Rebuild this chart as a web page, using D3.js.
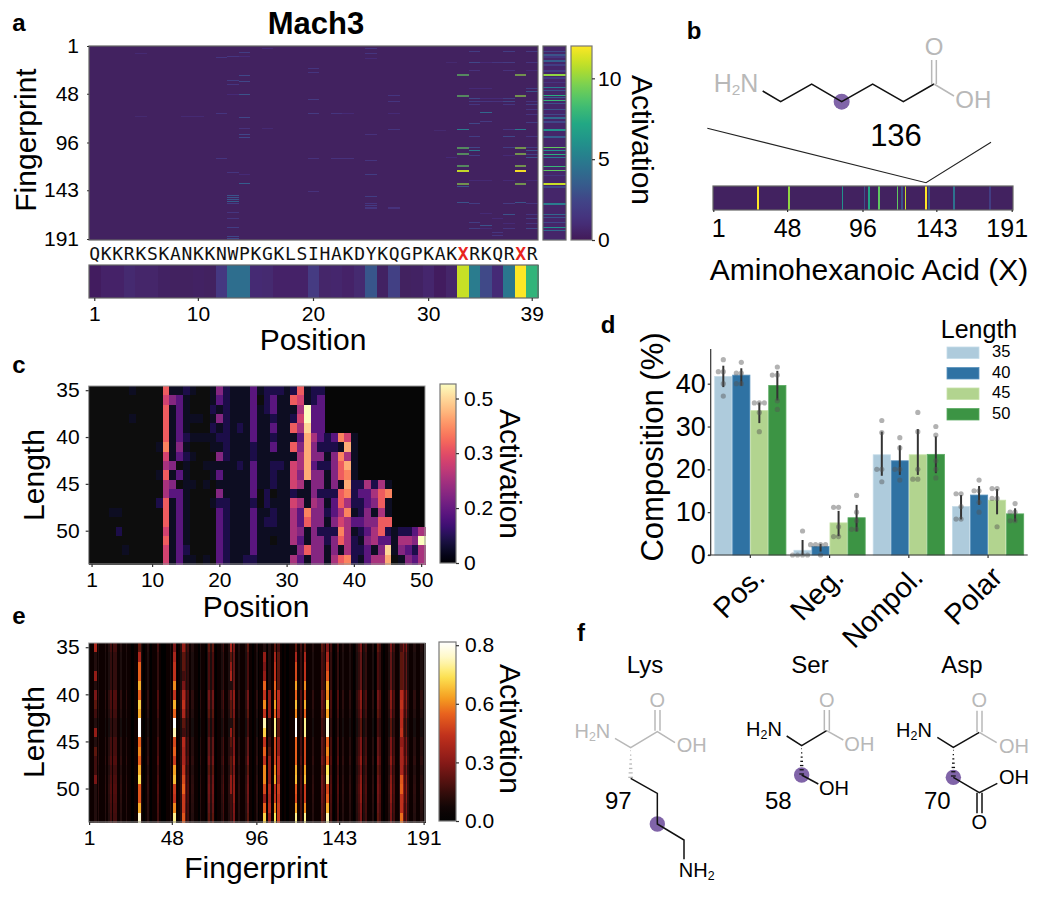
<!DOCTYPE html>
<html><head><meta charset="utf-8">
<script src="https://cdn.jsdelivr.net/npm/d3@7"></script>
<style>
html,body{margin:0;padding:0;background:#fff}
svg{display:block}
text{font-family:"Liberation Sans",Arial,sans-serif;fill:#000}
</style></head><body><div id="chart"></div>
<script>
// ---------- panel a data ----------
const sequence = "QKKRKSKANKKNWPKGKLSIHAKDYKQGPKAKXRKQRXR".split("");
const positionTicks = [1,10,20,30,39];
const fingerprintTicks = [1,48,96,143,191];
const positionMean = [.2,.5,.5,.8,.6,.6,.4,.3,.3,.4,.3,1.7,4.3,4.3,.9,.8,.5,.5,.5,1.8,.6,.7,.5,.8,3.2,.4,2.1,.3,.4,.7,.2,.6,11,5,2.6,1,4.7,12,7.8];
const mainBase = 0.3;
const mainHits = [
 [33,[[29,9],[49,9],[83,5],[100,9],[106,9],[118,9],[123,11],[136,10],[139,3],[155,3]]],
 [38,[[29,10],[49,10],[83,5],[100,10],[106,10],[118,10],[123,12],[136,10],[155,3]]],
 [34,[[6,2],[17,2.5],[25,1.2],[42,1],[52,2.5],[55,2],[58,1.5],[77,2.5],[90,2],[100,2.5],[103,5],[108,2],[133,1],[156,2],[174,2],[180,2]]],
 [35,[[17,1],[42,1],[52,1],[55,1.5],[66,4],[75,1.8],[133,.9],[165,1],[177,3],[180,1]]],
 [36,[[17,1.5],[52,1],[55,1.2],[170,1],[184,1.5],[187,1.5]]],
 [37,[[6,2],[17,1.8],[25,1.2],[52,2],[55,2.5],[58,1.5],[83,1.5],[90,2.5],[100,2],[108,1],[133,1],[156,1.8],[166,3],[175,1],[180,1.5]]],
 [39,[[6,1.8],[17,1.5],[25,1],[42,2],[45,3],[55,1.5],[58,2],[63,1.5],[68,1.5],[76,2],[90,1.5],[100,2],[103,3],[107,2],[110,3],[133,1],[156,1.5],[166,1.5],[170,2],[175,1.5],[180,2.5]]],
 [13,[[11,1.5],[34,2],[38,1.5],[48,1],[125,1.5],[148,3],[150,3],[152,3],[154,3.5],[156,2],[164,1.5],[170,1.5],[179,2],[188,2.5],[190,2.5]]],
 [14,[[7,2],[11,1],[30,2.5],[35,2.5],[48,3],[71,2.5],[82,1.2],[88,2.5],[91,2.5],[127,1],[136,3.5]]],
 [25,[[3,1.5],[8,1.5],[13,1],[88,1.2],[113,1.5],[127,2],[149,2],[156,1.5],[158,1.8],[160,1.5]]],
 [20,[[23,1.5],[27,1.5],[53,1.8],[67,1.8],[111,1.2],[144,1.2]]],
 [27,[[49,1.5],[55,1.5],[67,1],[83,1.5],[160,1.2]]],
 [12,[[12,1.5],[67,1.5],[111,1.5]]],
 [22,[[67,1.5],[111,1.2]]],[23,[[67,1],[111,1.2]]],
 [9,[[70,.9]]],[10,[[70,.9]]],[16,[[3,1],[82,.9]]],[5,[[8,.9],[70,.8]]],[31,[[84,.8]]],[32,[[17,.8],[110,1]]]
];
const fingerprintBase = 0.6;
const fingerprintMean = [[6,2.5],[9,3],[11,1.5],[15,3.5],[19,2],[25,2],[29,10],[32,2],[36,1.5],[41,5],[44,3],[49,7.5],[51,3.5],[54,8],[57,3],[63,3],[68,2.5],[71,4],[75,2.5],[83,6],[90,3.5],[100,9],[103,6],[107,7.5],[110,5],[119,8],[123,9],[128,1.5],[136,11],[139,2.5],[156,5],[166,4],[169,3],[174,2.5],[179,6],[182,4],[191,2]];
const activationTicks = [0,5,10];
// ---------- panel b data ----------
const aminoBase = 0.3;
const aminoValues = [[29,12],[49,10],[83,6],[97,3],[100,7],[106,9],[118,9],[121,3],[123,11],[136,12],[138,3],[154,4.5],[177,2]];
// ---------- panel c data (levels 0..b; one row per length) ----------
const lengths = d3.range(35,54);
const lengthTicks = [35,40,45,50];
const cColumns = d3.range(1,51);
const cTicks = [1,10,20,30,40,50];
const rowEnds = [35,35,35,35,35,40,40,40,40,40,45,45,45,45,45,50,50,50,50];
const cLevelValues = [.012,.035,.075,.16,.22,.27,.33,.38,.43,.48,.53,.58];
const cLevels = [
"0000001000 0711210014 2111312221 2712200000 0000000000",
"0000000000 0643100013 2111302311 7612300000 0000000000",
"0000000000 0713100021 2111312311 15b3300000 0000000000",
"0000001000 0713111014 2111311211 26b3300000 0000000000",
"0000000000 0713100021 2121311311 75a3300000 0000000000",
"0000000000 0713211112 2111311211 1395323861 0000000000",
"0000000000 1814100011 2111211311 7494222191 0000000000",
"0000000000 0613210004 2111211111 1594414851 0000000000",
"0000000000 0540100111 1121311221 6593224791 0000000000",
"0000000000 1713100013 1111311211 6494414781 0000000000",
"0000000000 0540110101 1111311211 6514414192 2525100000",
"0000000000 0533100004 1111302011 2114222782 3357800000",
"0000000000 2713100012 2111202111 6515413752 2347100000",
"0001100000 0713100003 2111311211 5384423581 2415100000",
"0000000000 0713100003 2111312211 5374414653 3447710000",
"0000200000 0613100003 2111311111 5414222851 2357212235",
"0000000000 0713100003 2111311011 5314424752 145331554b",
"0000010000 0613200003 2111311111 1474414152 2314a14325",
"0000000000 0613110103 2112211111 5314415782 1355901435"];
const cBarTicks = [[0,"0"],[0.178,"0.2"],[0.356,"0.3"],[0.533,"0.5"]];
// ---------- panel d data ----------
const groups = ["Pos.","Neg.","Nonpol.","Polar"];
const lengthKeys = ["35","40","45","50"];
const barColors = ["#aecbdc","#2f72a3","#b2d48f","#3c9444"];
const barEdges = ["#c4dbe8","#5a93bd","#c6e2a8","#5aaa62"];
const barValues = [[41.7,42,33.7,39.6],[1.1,2,7.5,8.7],[23.4,22,23.4,23.5],[11.3,14,12.8,9.6]];
const ciLow = [[39.2,39.5,30.8,36.1],[0,.8,4.4,5.5],[18.5,18.7,18.7,19.1],[8.3,11.7,9.5,7.8]];
const ciHigh = [[44.2,43.6,35.6,43],[3.5,2.6,10.3,11.7],[28.8,25.6,29.4,27.7],[14,16.1,15.4,10.9]];
// each point: [composition, swarm slot]
const swarm = [
 [[[45.6,0],[42.8,-1],[42.8,0],[40,0],[37.1,0]],[[45,0],[42.5,-1],[42.5,0],[40,-1],[40,0]],[[35.5,-1],[35.5,0],[35.5,1],[33.3,0],[28.8,0]],[[43.9,0],[42,-1],[42,0],[36,0],[34,0]]],
 [[[5.6,0],[0,-1],[0,0],[0,1],[0,-2]],[[2.4,-1],[2.4,0],[2.4,1],[2.4,-2],[0,0]],[[11.1,-1],[11.1,0],[6.6,0],[4.3,-1],[4.3,0]],[[13.9,0],[10,0],[8,0],[6,-1],[6,0]]],
 [[[31.4,0],[28.6,0],[20,-1],[20,0],[17.1,0]],[[27.4,0],[25,0],[20,-1],[20,0],[17.5,0]],[[33.3,0],[28.8,0],[20,0],[17.7,-1],[17.7,0]],[[30,0],[28,0],[22,0],[20,0],[18,0]]],
 [[[14.3,-1],[14.3,0],[11.3,0],[8.4,-1],[8.4,0]],[[17.5,0],[15,-1],[15,0],[12.3,0],[10,0]],[[15.5,-1],[15.5,0],[13.2,-1],[13.2,0],[6.6,0]],[[12,0],[10,-1],[10,0],[8,-1],[8,0]]]
];
const compositionTicks = [0,10,20,30,40];
// ---------- panel e data ----------
const fingerprints = d3.range(1,192);
// mean column level in steps of 0.05 activation
const eColumnLevels = "0114121112 1231331121 1211001102 1012101113 1000112111 0125423122 1102110242 4101123112 4251121112 4110120110 1041101511 0100111011 3101111211 1143101310 1301211121 0123512311 1201431011 2523112053 52112211221";
const eLengthGain = [1,.85,.85,.85,.85,1.2,1.1,1,.8,.8,1.05,1.05,1.2,1,1.15,1.2,1.15,1.05,1];
const eHotColumns = [
 [29,[.2,.35,.5,.5,.6,.5,.65,.6,.84,.84,.5,.55,.5,.6,.68,.48,.48,.6,.78]],
 [49,[.25,.35,.4,.4,.55,.4,.6,.5,.84,.75,.45,.5,.42,.58,.62,.42,.4,.55,.72]],
 [100,[.1,.3,.25,.3,.5,.4,.55,.4,.75,.65,.4,.5,.4,.55,.55,.45,.3,.5,.65]],
 [106,[.2,.35,.4,.4,.5,.45,.58,.5,.72,.72,.45,.45,.45,.55,.6,.4,.42,.55,.68]],
 [118,[.2,.35,.45,.45,.58,.5,.62,.55,.84,.84,.5,.5,.5,.6,.62,.48,.45,.58,.72]],
 [123,[.2,.35,.4,.4,.55,.45,.6,.5,.72,.72,.45,.45,.45,.58,.62,.42,.42,.55,.72]],
 [136,[.25,.35,.42,.48,.58,.55,.68,.58,.8,.8,.5,.55,.5,.68,.72,.45,.5,.6,.75]],
 [54,[.3,.2,.2,.15,.25,.35,.4,.35,.2,.15,.38,.35,.35,.4,.45,.5,.42,.42,.48]],
 [103,[.1,.1,.1,.1,.1,.3,.3,.3,.1,.1,.15,.2,.3,.3,.3,.38,.35,.38,.3]],
 [108,[.15,.2,.2,.2,.2,.38,.38,.35,.2,.2,.3,.3,.38,.38,.35,.42,.4,.42,.42]],
 [178,[.15,.2,.2,.2,.2,.38,.4,.38,.38,.4,.3,.35,.35,.35,.48,.5,.4,.4,.52]],
 [4,[.35,.1,.1,.3,.1,.25,.2,.15,.1,.3,.1,.2,.15,.15,.25,.1,.1,.1,.1]],
 [81,[.35,.2,.3,.35,.1,.25,.2,.2,.1,.3,.2,.15,.2,.2,.3,.3,.15,.15,.15]]
];
const eBarTicks = [[0,"0.0"],[.275,"0.3"],[.55,"0.6"],[.825,"0.8"]];
// ---------- structures ----------
const purple = "#8064a8", grey = "#b8b8b8", ink = "#000";

// ---------- colour scales ----------
const viridis = d3.scaleLinear()
  .domain([0,.1,.2,.3,.4,.5,.6,.7,.8,.9,1].map(t=>t*12))
  .range(["#421a58","#46307c","#414487","#355f8d","#2a788e","#21918c","#22a884","#44bf70","#7ad151","#bddf26","#fde725"]);
const magma = d3.scaleSequential(d3.interpolateMagma).domain([0,.58]);
const hot = d3.scaleLinear()
  .domain([0,.06,.12,.28,.4,.5,.58,.68,.76,.84])
  .range(["#040303","#0f0505","#2e0c0a","#8a1a18","#c0301c","#e8601e","#f5a020","#fde554","#fff8c0","#ffffff"]);

const svg = d3.select("#chart").append("svg").attr("width",1050).attr("height",900);
const defs = svg.append("defs");
function blur(id,sx,sy){ defs.append("filter").attr("id",id).attr("x","-5%").attr("y","-5%").attr("width","110%").attr("height","110%")
  .append("feGaussianBlur").attr("stdDeviation",sx+" "+sy); }
blur("blurMain",.35,.5); blur("blurCell",.5,.6); blur("blurHot",.3,.6); blur("blurStrip",.4,.1);

function label(x,y,s,size,opts={}){
  const t=svg.append("text").attr("x",x).attr("y",y).attr("font-size",size).attr("text-anchor",opts.anchor||"middle")
    .attr("dominant-baseline","middle").text(s);
  if(opts.rotate!==undefined) t.attr("transform",`rotate(${opts.rotate} ${x} ${y})`);
  if(opts.bold) t.attr("font-weight","bold");
  if(opts.fill) t.style("fill",opts.fill);
  return t;
}
function styleAxis(g,size,tick="#333"){
  g.select(".domain").remove();
  g.selectAll(".tick line").attr("stroke",tick).attr("stroke-width",1.2);
  g.selectAll(".tick text").attr("font-size",size).style("font-family",'"Liberation Sans",Arial,sans-serif').attr("fill","#000");
  return g;
}
function frame(x0,y0,w,h,c="#666",lw=1.2){
  svg.append("rect").attr("x",x0).attr("y",y0).attr("width",w).attr("height",h).attr("fill","none").attr("stroke",c).attr("stroke-width",lw);
}
function colorbar(id,x0,x1,y0,y1,scale,dom,ticks,size,labelX){
  const st=d3.range(0,1.0001,.04);
  const gr=defs.append("linearGradient").attr("id",id).attr("x1",0).attr("x2",0).attr("y1",1).attr("y2",0);
  gr.selectAll("stop").data(st).join("stop").attr("offset",d=>d).attr("stop-color",d=>scale(dom[0]+d*(dom[1]-dom[0])));
  svg.append("rect").attr("x",x0).attr("y",y0).attr("width",x1-x0).attr("height",y1-y0).attr("fill",`url(#${id})`);
  frame(x0,y0,x1-x0,y1-y0,"#777",1.2);
  const ys=d3.scaleLinear().domain(dom).range([y1,y0]);
  const g=svg.append("g").attr("transform",`translate(${x1},0)`)
    .call(d3.axisRight(ys).tickValues(ticks.map(d=>d[0])).tickSize(3).tickPadding(labelX).tickFormat((d,i)=>ticks[i][1]));
  styleAxis(g,size);
}

// ---------- panel a ----------
label(19,25,"a",24,{bold:true});
label(316,26,"Mach3",31,{bold:true});
const xA = d3.scaleBand().domain(d3.range(1,40)).range([89,538]);
const yA = d3.scaleBand().domain(d3.range(1,192)).range([46,240]);
const mainG = svg.append("g").attr("filter","url(#blurMain)");
mainG.append("rect").attr("x",xA.range()[0]).attr("y",yA.range()[0]).attr("width",xA.range()[1]-xA.range()[0]).attr("height",yA.range()[1]-yA.range()[0]).attr("fill",viridis(mainBase));
mainG.selectAll("g").data(mainHits).join("g").each(function(col){
  d3.select(this).selectAll("rect").data(col[1]).join("rect")
    .attr("x",xA(col[0])).attr("width",xA.bandwidth()).attr("y",d=>yA(d[0]))
    .attr("height",d=>yA.bandwidth()*(d[1]>=8?2:1)).attr("fill",d=>viridis(d[1]))
    .attr("fill-opacity",d=>d[1]>=10.5?.95:d[1]>=8?.62:1)
    .attr("shape-rendering","crispEdges");
});
frame(89,46,449,194);
styleAxis(svg.append("g").attr("transform","translate(89,0)").call(d3.axisLeft(yA).tickValues(fingerprintTicks).tickSize(2).tickPadding(8)),21);
label(28,140,"Fingerprint",30,{rotate:-90});
// side strip
const xSide = [543,566];
const sideOrder = fingerprints.slice().sort((a,b)=>{
  const va=fingerprintMean.some(e=>e[0]===a)?1:0, vb=fingerprintMean.some(e=>e[0]===b)?1:0; return va-vb||a-b;});
const sideG = svg.append("g").attr("filter","url(#blurMain)");
sideG.selectAll("rect").data(sideOrder).join("rect")
  .attr("x",xSide[0]).attr("width",xSide[1]-xSide[0]).attr("y",d=>yA(d)).attr("height",yA.bandwidth()+.4)
  .attr("shape-rendering","crispEdges")
  .attr("fill",d=>{const h=fingerprintMean.find(e=>e[0]===d);return viridis(h?h[1]:fingerprintBase);});
frame(543,46,23,194);
colorbar("cbA",571,592,46,240,viridis,[0,12],activationTicks.map(d=>[d,String(d)]),21,3);
label(640,140,"Activation",30,{rotate:90});
// sequence letters
svg.append("g").selectAll("text").data(sequence).join("text")
  .attr("x",(d,i)=>xA(i+1)+xA.bandwidth()/2).attr("y",255).attr("text-anchor","middle").attr("dominant-baseline","middle")
  .attr("font-size",18).style("font-family",'"DejaVu Sans Mono",monospace')
  .style("fill",d=>d==="X"?"#e8251f":"#111").attr("font-weight",d=>d==="X"?"bold":"normal").text(d=>d);
// position strip
const stripG = svg.append("g").attr("filter","url(#blurStrip)");
stripG.selectAll("rect").data(positionMean).join("rect")
  .attr("x",(d,i)=>xA(i+1)).attr("width",xA.bandwidth()+.8).attr("y",265).attr("height",33).attr("fill",d=>viridis(d))
  .attr("shape-rendering","crispEdges");
frame(89,265,449,33);
styleAxis(svg.append("g").attr("transform","translate(0,298)").call(d3.axisBottom(xA).tickValues(positionTicks).tickSize(3).tickPadding(5)),21);
label(313,342,"Position",30);

// ---------- panel b ----------
label(694,33,"b",24,{bold:true});
const xB = d3.scaleBand().domain(d3.range(1,192)).range([713,1013]);
const bOrder = fingerprints.slice().sort((a,b)=>{
  const va=aminoValues.some(e=>e[0]===a)?1:0, vb=aminoValues.some(e=>e[0]===b)?1:0; return va-vb||a-b;});
const bG = svg.append("g").attr("filter","url(#blurStrip)");
bG.selectAll("rect").data(bOrder).join("rect")
  .attr("x",d=>xB(d)).attr("width",xB.bandwidth()+.1).attr("y",186).attr("height",24)
  .attr("shape-rendering","crispEdges")
  .attr("fill",d=>{const h=aminoValues.find(e=>e[0]===d);return viridis(h?h[1]:aminoBase);});
frame(713,186,300,24);
const axB = styleAxis(svg.append("g").attr("transform","translate(0,210)").call(d3.axisBottom(xB).tickValues(fingerprintTicks).tickSize(2).tickPadding(7)),25);
axB.selectAll(".tick text").attr("dx",(d)=>d===1?5:d===191?-5:0);
label(869,272,"Aminohexanoic Acid (X)",30);

const Z = (x0,y0)=>(p)=>[x0+p[0]/3,y0+p[1]/3];
const lineGen = d3.line();
function bonds(x0,y0,list,color,w=1.5){
  const z=Z(x0,y0);
  svg.append("g").selectAll("path").data(list).join("path")
    .attr("d",d=>lineGen(d.map(z))).attr("fill","none").attr("stroke",color).attr("stroke-width",w).attr("stroke-linejoin","miter");
}
function atom(x0,y0,p,parts,color,size){
  const z=Z(x0,y0)(p);
  const t=svg.append("text").attr("x",z[0]).attr("y",z[1]).attr("text-anchor","middle").attr("dominant-baseline","middle").attr("font-size",size).style("fill",color);
  let pending=0;
  parts.forEach(pt=>{
    const s=t.append("tspan").text(pt.t);
    if(pt.sub){ s.attr("font-size",size*.62).attr("dy",size*.25); pending=-size*.25; }
    else if(pending){ s.attr("dy",pending); pending=0; }
  });
}
function dot(x0,y0,p,r){ const z=Z(x0,y0)(p); svg.append("circle").attr("cx",z[0]).attr("cy",z[1]).attr("r",r).attr("fill",purple); }
function hash(x0,y0,p,q,color){
  const z=Z(x0,y0); const a=z(p),b=z(q); const n=7;
  svg.append("g").selectAll("line").data(d3.range(n)).join("line")
    .attr("x1",i=>a[0]-(.3+i*.35)).attr("x2",i=>a[0]+(.3+i*.35))
    .attr("y1",i=>a[1]+(b[1]-a[1])*i/(n-1)).attr("y2",i=>a[1]+(b[1]-a[1])*i/(n-1))
    .attr("stroke",color).attr("stroke-width",1.3);
}
// aminohexanoic acid
dot(680,10,[485,275],8);
bonds(680,10,[[[248,243],[302,275],[395,222],[485,275],[578,222],[670,275],[762,222]]],"#111");
bonds(680,10,[[[762,222],[822,258]],[[755,222],[755,150]],[[769,222],[769,150]]],grey);
atom(680,10,[168,225],[{t:"H"},{t:"2",sub:1},{t:"N"}],grey,25);
atom(680,10,[762,118],[{t:"O"}],grey,24);
atom(680,10,[880,275],[{t:"OH"}],grey,24);
label(896,138,"136",31);
bonds(680,10,[[[82,355],[738,518],[933,397]]],"#222",1.1);

// ---------- panel c ----------
label(19,367,"c",24,{bold:true});
const xC = d3.scaleBand().domain(cColumns).range([88.7,425]);
const yC = d3.scaleBand().domain(lengths).range([386,564]);
const cCells = cLevels.flatMap((row,ri)=>{
  const digits=row.replace(/ /g,"").split("").map(c=>parseInt(c,12));
  return digits.map((lv,ci)=>({len:lengths[ri],col:ci+1,lv,on:ci+1<=rowEnds[ri]}));
});
svg.append("rect").attr("x",88.7).attr("y",386).attr("width",336.3).attr("height",178).attr("fill","#060606");
svg.append("g").attr("filter","url(#blurCell)").selectAll("rect").data(cCells.filter(d=>d.on)).join("rect")
  .attr("x",d=>xC(d.col)).attr("y",d=>yC(d.len)).attr("width",xC.bandwidth()+.5).attr("height",yC.bandwidth()+.5)
  .attr("shape-rendering","crispEdges")
  .attr("fill",d=>d.lv===0?"#0d0c10":magma(cLevelValues[d.lv]));
frame(88.7,386,336.3,178,"#999",1);
styleAxis(svg.append("g").attr("transform","translate(88.7,0)").call(d3.axisLeft(yC).tickValues(lengthTicks).tickSize(3).tickPadding(6)),21);
styleAxis(svg.append("g").attr("transform","translate(0,564)").call(d3.axisBottom(xC).tickValues(cTicks).tickSize(3).tickPadding(5)),21);
label(36,475,"Length",30,{rotate:-90});
label(256,609,"Position",30);
colorbar("cbC",440,456,384,563,magma,[0,.58],cBarTicks,21,5);
label(508,474,"Activation",30,{rotate:90});

// ---------- panel d ----------
label(608,327,"d",24,{bold:true});
const xD = d3.scaleBand().domain(groups).range([710.7,1027.7]);
const xInner = d3.scaleBand().domain(lengthKeys).range([0,xD.bandwidth()]).paddingOuter(.2).paddingInner(0);
const yD = d3.scaleLinear().domain([0,48.1]).range([555,349]);
const bw = xInner.bandwidth();
const gD = svg.append("g");
groups.forEach((g,gi)=>{
  const gg=gD.append("g").attr("transform",`translate(${xD(g)},0)`);
  gg.selectAll("rect").data(barValues[gi]).join("rect")
    .attr("x",(d,i)=>xInner(lengthKeys[i])+.4).attr("width",bw-.8).attr("y",d=>yD(d)).attr("height",d=>yD(0)-yD(d))
    .attr("fill",(d,i)=>barColors[i]).attr("stroke",(d,i)=>barEdges[i]).attr("stroke-width",.8);
  lengthKeys.forEach((k,i)=>{
    const cx=xInner(k)+bw/2;
    gg.append("line").attr("x1",cx).attr("x2",cx).attr("y1",yD(ciLow[gi][i])).attr("y2",yD(ciHigh[gi][i])).attr("stroke","#333").attr("stroke-width",2);
    gg.append("g").selectAll("circle").data(swarm[gi][i]).join("circle")
      .attr("cx",d=>cx+d[1]*5).attr("cy",d=>yD(d[0])).attr("r",2.6).attr("fill","#555").attr("fill-opacity",.45);
  });
});
const axDy=svg.append("g").attr("transform","translate(710.7,0)").call(d3.axisLeft(yD).tickValues(compositionTicks).tickSize(3).tickPadding(2));
styleAxis(axDy,27);
svg.append("line").attr("x1",710.7).attr("x2",710.7).attr("y1",349).attr("y2",555).attr("stroke","#333").attr("stroke-width",1.2);
svg.append("line").attr("x1",708).attr("x2",1027.7).attr("y1",555).attr("y2",555).attr("stroke","#333").attr("stroke-width",1.2);
const axDx=svg.append("g").attr("transform","translate(0,555)").call(d3.axisBottom(xD).tickSize(3));
styleAxis(axDx,29);
axDx.selectAll(".tick text").attr("text-anchor","end").attr("dominant-baseline","auto").attr("dy",0).attr("y",0)
  .attr("transform","translate(16,24) rotate(-45)");
label(655,447,"Composition (%)",31,{rotate:-90});
label(979,331,"Length",25);
const legendY = d3.scaleBand().domain(lengthKeys).range([347,429]);
const lg = svg.append("g").selectAll("g").data(lengthKeys).join("g");
lg.append("rect").attr("x",947).attr("width",32).attr("y",d=>legendY(d)).attr("height",11.5)
  .attr("fill",(d,i)=>barColors[i]).attr("stroke",(d,i)=>barEdges[i]).attr("stroke-width",.8);
lg.append("text").attr("x",992).attr("y",d=>legendY(d)+6).attr("dominant-baseline","middle").attr("font-size",16.5).text(d=>d);

// ---------- panel e ----------
label(19,618,"e",24,{bold:true});
const xE = d3.scaleBand().domain(fingerprints).range([88.7,425]);
const yE = d3.scaleBand().domain(lengths).range([643,822]);
const eDigits = eColumnLevels.replace(/ /g,"").split("").map(Number);
const eCells = lengths.flatMap((len,ri)=>fingerprints.map((fp,ci)=>{
  const h=eHotColumns.find(e=>e[0]===fp);
  return {len,fp,hotCol:!!h,v:h?h[1][ri]:eDigits[ci]*.05*eLengthGain[ri]};
})).sort((a,b)=>(a.hotCol-b.hotCol)||(a.fp-b.fp));
svg.append("g").attr("filter","url(#blurHot)").selectAll("rect").data(eCells).join("rect")
  .attr("x",d=>xE(d.fp)).attr("y",d=>yE(d.len)).attr("width",xE.bandwidth()+.9).attr("height",yE.bandwidth()+.6)
  .attr("shape-rendering","crispEdges")
  .attr("fill",d=>hot(d.v));
frame(88.7,643,336.3,179,"#999",1);
styleAxis(svg.append("g").attr("transform","translate(88.7,0)").call(d3.axisLeft(yE).tickValues(lengthTicks).tickSize(3).tickPadding(6)),21);
styleAxis(svg.append("g").attr("transform","translate(0,822)").call(d3.axisBottom(xE).tickValues(fingerprintTicks).tickSize(3).tickPadding(5)),21);
label(36,732,"Length",30,{rotate:-90});
label(256,870,"Fingerprint",30);
colorbar("cbE",439,456,642,821,hot,[0,.84],eBarTicks,21,6);
label(508,729,"Activation",30,{rotate:90});

// ---------- panel f ----------
label(581,635,"f",24,{bold:true});
label(645,667,"Lys",24); label(810,667,"Ser",24); label(962,667,"Asp",24);
const F=[560,620];
// Lys
dot(F[0],F[1],[292,612],7.7);
bonds(F[0],F[1],[[[165,355],[212,383],[292,335],[345,368]],[[285,332],[285,270]],[[300,332],[300,270]]],grey);
hash(F[0],F[1],[212,392],[212,472],grey);
bonds(F[0],F[1],[[[212,475],[292,520],[292,612],[372,660],[372,718]]],"#111");
atom(F[0],F[1],[97,340],[{t:"H"},{t:"2",sub:1},{t:"N"}],grey,20);
atom(F[0],F[1],[292,245],[{t:"O"}],grey,20);
atom(F[0],F[1],[395,382],[{t:"OH"}],grey,20);
atom(F[0],F[1],[410,755],[{t:"NH"},{t:"2",sub:1}],"#000",20);
atom(F[0],F[1],[175,550],[{t:"97"}],"#000",24);
// Ser
dot(F[0],F[1],[725,465],7.7);
bonds(F[0],F[1],[[[680,348],[725,377],[800,332]],[[725,465],[775,492]]],"#111");
bonds(F[0],F[1],[[[800,332],[850,360]],[[793,332],[793,270]],[[808,332],[808,270]]],grey);
hash(F[0],F[1],[725,386],[725,462],"#111");
atom(F[0],F[1],[612,332],[{t:"H"},{t:"2",sub:1},{t:"N"}],"#000",20);
atom(F[0],F[1],[800,245],[{t:"O"}],grey,20);
atom(F[0],F[1],[898,377],[{t:"OH"}],grey,20);
atom(F[0],F[1],[822,510],[{t:"OH"}],"#000",20);
atom(F[0],F[1],[655,550],[{t:"58"}],"#000",24);
// Asp
dot(F[0],F[1],[1180,472],7.7);
bonds(F[0],F[1],[[[1132,352],[1180,382],[1258,337]],[[1180,472],[1258,518],[1312,490]],[[1251,518],[1251,580]],[[1266,518],[1266,580]]],"#111");
bonds(F[0],F[1],[[[1258,337],[1310,368]],[[1251,337],[1251,272]],[[1266,337],[1266,272]]],grey);
hash(F[0],F[1],[1180,391],[1180,468],"#111");
atom(F[0],F[1],[1062,337],[{t:"H"},{t:"2",sub:1},{t:"N"}],"#000",20);
atom(F[0],F[1],[1258,245],[{t:"O"}],grey,20);
atom(F[0],F[1],[1362,383],[{t:"OH"}],grey,20);
atom(F[0],F[1],[1362,478],[{t:"OH"}],"#000",20);
atom(F[0],F[1],[1258,612],[{t:"O"}],"#000",20);
atom(F[0],F[1],[1132,550],[{t:"70"}],"#000",24);
</script></body></html>
